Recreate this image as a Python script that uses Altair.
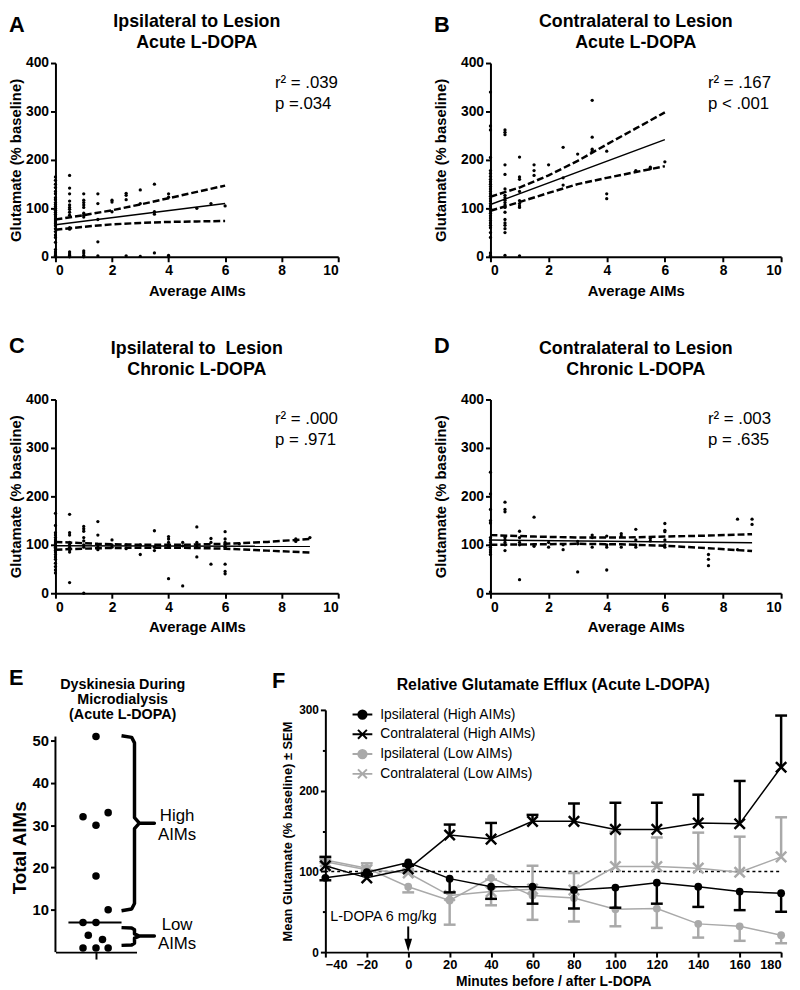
import altair as alt
import pandas as pd

FONT = "Liberation Sans"

# ---------------- Panels A-D : Average AIMs -> glutamate (% baseline) ----------------
A_points = {
    0: [165, 158, 150, 143, 135, 130, 122, 118, 112, 108, 104, 100, 96, 92, 88, 84, 80, 76, 72,
        68, 64, 58, 52, 45, 40, 30, 15, 10, 6, 3, 0],
    0.5: [168, 142, 130, 115, 107, 102, 98, 92, 86, 60, 57, 10, 6, 3, 0],
    1: [130, 117, 112, 107, 102, 90, 86, 82, 12, 8, 3, 0],
    1.5: [130, 110, 77, 31, 2],
    2: [117, 113, 93],
    2.5: [131, 127, 118, 2],
    3: [138, 110, 1],
    3.5: [150, 93, 88, 8],
    4: [130, 123, 3, 0],
    5: [100],
    5.5: [110],
    6: [105],
}
A_fit_x = [0, 6]
A_fit_y = [66, 110]
A_band_x = [0, 1, 2, 3, 4, 5, 6]
A_band_upper = [77, 86, 96, 108, 121, 134, 147]
A_band_lower = [56, 62, 67, 70, 72, 73, 74]

B_points = {
    0: [340, 270, 262, 205, 178, 172, 166, 160, 155, 150, 145, 140, 135, 130, 125, 120, 115, 110,
        105, 100, 95, 90, 85, 80, 75, 70, 65, 60, 50, 40, 8, 3, 0],
    0.5: [262, 257, 252, 190, 170, 140, 127, 122, 117, 112, 107, 102, 92, 77, 70, 65, 58, 50, 3],
    1: [206, 165, 160, 135, 116, 110, 105, 102, 2],
    1.5: [190, 178, 168],
    2: [190],
    2.5: [226, 163, 148],
    3: [212],
    3.5: [323, 247, 222, 218],
    4: [218, 130, 120],
    5: [178],
    5.5: [185, 182],
    6: [196],
}
B_fit_x = [0, 6]
B_fit_y = [108, 242]
B_band_x = [0, 1, 2, 3, 4, 5, 6]
B_band_upper = [124, 143, 168, 198, 232, 265, 298]
B_band_lower = [95, 113, 132, 150, 163, 175, 187]

C_points = {
    0: [165, 140, 125, 120, 115, 110, 106, 102, 98, 95, 92, 88, 85, 80, 75, 70, 62, 55, 48, 42],
    0.5: [163, 125, 120, 105, 100, 95, 90, 85, 22],
    1: [138, 133, 128, 115, 108, 100, 95, 0],
    1.5: [148, 120, 100, 95, 90],
    2: [110, 100, 95],
    2.5: [100, 92],
    3: [100, 80],
    3.5: [129, 95, 88],
    4: [117, 112, 105, 100, 95, 30],
    4.5: [105, 98, 15],
    5: [137, 105, 100, 95, 75],
    5.5: [113, 105, 60],
    6: [127, 112, 105, 100, 95, 60, 45, 40],
    6.5: [102],
    8.5: [112, 107],
    9: [115],
}
C_fit_x = [0, 9]
C_fit_y = [98, 97]
C_band_x = [0, 1.5, 3, 4.5, 6, 7.5, 9]
C_band_upper = [106, 102, 100, 100, 102, 106, 112]
C_band_lower = [90, 93, 94, 94, 92, 88, 84]

D_points = {
    0: [250, 205, 173, 150, 145, 115, 110, 105, 100, 95, 90, 85, 80, 3],
    0.5: [188, 173, 168, 115, 110, 105, 100, 88],
    1: [128, 115, 105, 100, 28],
    1.5: [157, 100, 97],
    2: [105, 95],
    2.5: [100, 90],
    3: [107, 102, 44],
    3.5: [120, 115, 95],
    4: [118, 100, 95, 48],
    4.5: [123, 118, 95],
    5: [132, 110, 100, 95],
    5.5: [113, 108],
    6: [144, 130, 127, 110, 100, 95],
    7.5: [80, 70, 57],
    8.5: [153, 90],
    9: [153, 142],
}
D_fit_x = [0, 9]
D_fit_y = [110, 104]
D_band_x = [0, 1.5, 3, 4.5, 6, 7.5, 9]
D_band_upper = [120, 117, 115, 115, 117, 119, 122]
D_band_lower = [100, 101, 102, 101, 98, 93, 87]

# ---------------- Panel E ----------------
E_values = [51, 32, 33, 30, 18, 10, 7, 7, 4, 3, 1, 1, 1]
E_offsets = [0, -0.32, 0.3, 0, 0, 0.3, -0.32, 0, -0.19, 0.16, -0.32, 0, 0.3]
E_median = 7
E_median_x = [-0.68, 0.63]
E_high_bracket_x = [0.63, 0.88, 0.95, 0.95, 1.07, 1.44, 1.07, 0.95, 0.95, 0.88, 0.63]
E_high_bracket_y = [51.2, 50.8, 49.5, 31.8, 30.5, 30.5, 30.5, 29.2, 11.5, 10.2, 9.8]
E_low_bracket_x = [0.63, 0.88, 0.95, 0.95, 1.07, 1.44, 1.07, 0.95, 0.95, 0.88, 0.63]
E_low_bracket_y = [5.8, 5.7, 5.3, 4.3, 3.8, 3.8, 3.8, 3.3, 2.1, 1.7, 1.6]

# ---------------- Panel F ----------------
F_time = [-40, -20, 0, 20, 40, 60, 80, 100, 120, 140, 160, 180]
F_ipsi_high = [92, 99, 111, 91, 81, 81, 77, 80, 86, 81, 75, 73]
F_ipsi_high_sem = [3, 3, 3, 17, 15, 21, 23, 25, 26, 25, 23, 23]
F_contra_high = [107, 92, 103, 145, 140, 162, 162, 152, 152, 160, 159, 229]
F_contra_high_sem = [11, 4, 4, 13, 20, 8, 22, 33, 33, 35, 53, 64]
F_ipsi_low = [114, 104, 81, 64, 92, 70, 67, 53, 54, 35, 32, 21]
F_ipsi_low_sem = [3, 3, 7, 30, 34, 30, 29, 21, 24, 17, 18, 10]
F_contra_low = [112, 102, 98, 70, 75, 78, 77, 106, 106, 104, 99, 118]
F_contra_low_sem = [3, 8, 3, 4, 15, 29, 21, 43, 36, 44, 44, 49]
F_series = ["Ipsilateral (High AIMs)", "Contralateral (High AIMs)",
            "Ipsilateral (Low AIMs)", "Contralateral (Low AIMs)"]
BLACK = "#000000"
GRAY = "#a9a9a9"

X_PATH = "M-1,-1L1,1M1,-1L-1,1"
LEG_CIRCLE = "M-1,0L1,0M0.42,0A0.42,0.42,0,1,1,-0.42,0A0.42,0.42,0,1,1,0.42,0Z"
LEG_X = "M-1,0L1,0M-0.45,-0.45L0.45,0.45M0.45,-0.45L-0.45,0.45"


def text_layer(text, x, y, size, weight="normal", align="left", baseline="middle"):
    kw = dict(font=FONT, fontSize=size, fontWeight=weight, align=align,
              baseline=baseline, color="black")
    return alt.Chart(pd.DataFrame({"t": [text]})).mark_text(**kw).encode(
        text="t:N", x=alt.value(x), y=alt.value(y))


def text_lines(lines, x, y0, lh, size, weight="normal", align="left"):
    return [text_layer(t, x, y0 + i * lh, size, weight, align) for i, t in enumerate(lines)]


def scatter_panel(points, fit_x, fit_y, band_x, up, lo, width, letter, letter_x, letter_y,
                  title, title_y, title_lh, r2, p, stat_x, ytitle_pad):
    rows = [(x, y) for x, ys in points.items() for y in ys]
    df = pd.DataFrame(rows, columns=["aims", "glu"])
    xenc = alt.X("aims:Q", scale=alt.Scale(domain=[0, 10], nice=False),
                 axis=alt.Axis(values=[0, 2, 4, 6, 8, 10], title="Average AIMs",
                               labelFontSize=14, titleFontSize=15, titlePadding=6))
    yenc = alt.Y("glu:Q", scale=alt.Scale(domain=[0, 400], nice=False),
                 axis=alt.Axis(values=[0, 100, 200, 300, 400], title="Glutamate (% baseline)",
                               labelFontSize=14, titleFontSize=15, titlePadding=ytitle_pad))
    pts = alt.Chart(df).mark_circle(size=11, color="black", opacity=1).encode(x=xenc, y=yenc)
    fit = alt.Chart(pd.DataFrame({"aims": fit_x, "glu": fit_y})).mark_line(
        color="black", strokeWidth=1.5).encode(x="aims:Q", y="glu:Q")
    n = len(band_x)
    bdf = pd.DataFrame({"aims": list(band_x) * 2, "glu": list(up) + list(lo),
                        "side": ["upper"] * n + ["lower"] * n})
    band = alt.Chart(bdf).mark_line(color="black", strokeWidth=2.5, strokeDash=[7, 3]).encode(
        x="aims:Q", y="glu:Q", detail="side:N")
    layers = [pts, fit, band, text_layer(letter, letter_x, letter_y, 22, "bold")]
    layers += text_lines(title, width / 2, title_y, title_lh, 18, "bold", "center")
    layers += [text_layer(r2, stat_x, 20, 17), text_layer(p, stat_x, 41, 17)]
    return alt.layer(*layers).properties(width=width, height=196)


A = scatter_panel(A_points, A_fit_x, A_fit_y, A_band_x, A_band_upper, A_band_lower, 286,
                  "A", -47, -38, ["Ipsilateral to Lesion", "Acute L-DOPA"], -41, 21,
                  "r\u00b2 = .039", "p =.034", 222, 2)
B = scatter_panel(B_points, B_fit_x, B_fit_y, B_band_x, B_band_upper, B_band_lower, 294,
                  "B", -57, -38, ["Contralateral to Lesion", "Acute L-DOPA"], -41, 21,
                  "r\u00b2 = .167", "p < .001", 220, 12)
C = scatter_panel(C_points, C_fit_x, C_fit_y, C_band_x, C_band_upper, C_band_lower, 286,
                  "C", -47, -53.5, ["Ipsilateral to\u00a0 Lesion", "Chronic L-DOPA"], -51.3, 21.6,
                  "r\u00b2 = .000", "p = .971", 222, 2)
D = scatter_panel(D_points, D_fit_x, D_fit_y, D_band_x, D_band_upper, D_band_lower, 294,
                  "D", -57, -53.5, ["Contralateral to Lesion", "Chronic L-DOPA"], -51.3, 21.6,
                  "r\u00b2 = .003", "p = .635", 220, 12)

# ---------------- Panel E chart ----------------
E_df = pd.DataFrame({"pos": E_offsets, "aims": E_values})
ex = alt.X("pos:Q", scale=alt.Scale(domain=[-1, 1], nice=False, zero=False),
           axis=alt.Axis(values=[0], labels=False, title=None, tickSize=7))
ey = alt.Y("aims:Q", scale=alt.Scale(domain=[0, 57.3], nice=False),
           axis=alt.Axis(values=[10, 20, 30, 40, 50], title="Total AIMs", domain=False,
                         labelFontSize=15, titleFontSize=19, titlePadding=3, titleY=139))
E_dots = alt.Chart(E_df).mark_circle(size=58, color="black", opacity=1).encode(x=ex, y=ey)
E_axis_line = alt.Chart(pd.DataFrame({"aims": [0], "aims2": [51]})).mark_rule(
    color="black", strokeWidth=2).encode(x=alt.value(0), y="aims:Q", y2="aims2:Q")
E_med = alt.Chart(pd.DataFrame({"pos": [E_median_x[0]], "pos2": [E_median_x[1]],
                                "aims": [E_median]})).mark_rule(
    color="black", strokeWidth=2).encode(x="pos:Q", x2="pos2:Q", y="aims:Q")
br_df = pd.DataFrame({
    "pos": E_high_bracket_x + E_low_bracket_x,
    "aims": E_high_bracket_y + E_low_bracket_y,
    "grp": ["high"] * len(E_high_bracket_x) + ["low"] * len(E_low_bracket_x),
    "ord": list(range(len(E_high_bracket_x))) + list(range(len(E_low_bracket_x))),
})
E_br = alt.Chart(br_df).mark_line(color="black", strokeWidth=3.5, strokeJoin="round").encode(
    x="pos:Q", y="aims:Q", detail="grp:N", order="ord:Q")
E_lab = alt.Chart(pd.DataFrame({"pos": [2.0, 2.0], "aims": [32.3, 6.5],
                                "t": ["High\nAIMs", "Low\nAIMs"]})).mark_text(
    font=FONT, fontSize=17, align="center", baseline="middle", lineBreak="\n",
    lineHeight=20, color="black").encode(x="pos:Q", y="aims:Q", text="t:N")
E = alt.layer(
    E_axis_line, E_dots, E_med, E_br, E_lab,
    text_layer("E", -47, -32.5, 22, "bold"),
    *text_lines(["Dyskinesia During", "Microdialysis", "(Acute L-DOPA)"], 68, -25, 15, 14.5,
                "bold", "center"),
).properties(width=82, height=245)

# ---------------- Panel F chart ----------------
series_spec = [
    (F_series[2], F_ipsi_low, F_ipsi_low_sem, -1, "circle", GRAY),
    (F_series[3], F_contra_low, F_contra_low_sem, 1, "x", GRAY),
    (F_series[0], F_ipsi_high, F_ipsi_high_sem, -1, "circle", BLACK),
    (F_series[1], F_contra_high, F_contra_high_sem, 1, "x", BLACK),
]
fx = alt.X("time:Q", scale=alt.Scale(domain=[-40, 180], nice=False, zero=False),
           axis=alt.Axis(values=list(range(-40, 181, 20)), title="Minutes before / after L-DOPA",
                         labelFontSize=13, titleFontSize=14, titlePadding=3))
fy = alt.Y("val:Q", scale=alt.Scale(domain=[0, 300], nice=False),
           axis=alt.Axis(values=list(range(0, 301, 50)),
                         labelExpr="datum.value % 100 === 0 ? datum.label : ''",
                         tickSize={"condition": {"test": "datum.value % 100 === 0", "value": 5},
                                   "value": 3},
                         title="Mean Glutamate (% baseline)  \u00b1 SEM",
                         labelFontSize=12, titleFontSize=13, titlePadding=4))

F_layers = []
ref = alt.Chart(pd.DataFrame({"time": [-40], "time2": [180], "val": [100]})).mark_rule(
    color="black", strokeWidth=1.5, strokeDash=[3, 3]).encode(x=fx, x2="time2:Q", y=fy)
F_layers.append(ref)
for name, mean, sem, direction, kind, col in series_spec:
    df = pd.DataFrame({"time": F_time, "val": mean,
                       "end": [m + direction * s for m, s in zip(mean, sem)]})
    base = alt.Chart(df)
    F_layers.append(base.mark_line(color=col, strokeWidth=1.5).encode(x="time:Q", y="val:Q"))
    F_layers.append(base.mark_rule(color=col, strokeWidth=2.5).encode(
        x="time:Q", y="val:Q", y2="end:Q"))
    F_layers.append(base.mark_tick(color=col, orient="horizontal", size=12, thickness=2.5,
                                   opacity=1).encode(x="time:Q", y="end:Q"))
    if kind == "circle":
        F_layers.append(base.mark_point(shape="circle", filled=True, size=62, color=col,
                                        opacity=1).encode(x="time:Q", y="val:Q"))
    else:
        F_layers.append(base.mark_point(shape=X_PATH, filled=False, size=110, color=col,
                                        strokeWidth=2.5, opacity=1).encode(x="time:Q", y="val:Q"))

# L-DOPA annotation and arrow
F_layers.append(alt.Chart(pd.DataFrame({"time": [-37.6], "val": [44], "t": ["L-DOPA 6 mg/kg"]}))
                .mark_text(font=FONT, fontSize=14.5, align="left", baseline="middle",
                           color="black").encode(x="time:Q", y="val:Q", text="t:N"))
F_layers.append(alt.Chart(pd.DataFrame({"time": [0], "val": [31.8], "v2": [9]})).mark_rule(
    color="black", strokeWidth=2).encode(x="time:Q", y="val:Q", y2="v2:Q"))
F_layers.append(alt.Chart(pd.DataFrame({"time": [0], "val": [8.6]})).mark_point(
    shape="M-0.6,-1L0.6,-1L0,1Z", filled=True, size=169, color="black", opacity=1).encode(
    x="time:Q", y="val:Q"))

# legend (invisible carrier layer)
leg = alt.Legend(title=None, orient="none", legendX=26.5, legendY=-6.3, padding=0,
                 labelFont=FONT, labelFontSize=14, labelColor="black", symbolSize=400,
                 symbolStrokeWidth=2, symbolOpacity=1, rowPadding=0, labelOffset=7)
leg_df = pd.DataFrame({"series": F_series})
F_layers.append(alt.Chart(leg_df).mark_point(filled=True, opacity=0).encode(
    x=alt.value(0), y=alt.value(0),
    fill=alt.Fill("series:N", sort=F_series,
                  scale=alt.Scale(domain=F_series, range=[BLACK, BLACK, GRAY, GRAY]), legend=leg),
    stroke=alt.Stroke("series:N", sort=F_series,
                      scale=alt.Scale(domain=F_series, range=[BLACK, BLACK, GRAY, GRAY]), legend=leg),
    shape=alt.Shape("series:N", sort=F_series,
                    scale=alt.Scale(domain=F_series, range=[LEG_CIRCLE, LEG_X, LEG_CIRCLE, LEG_X]),
                    legend=leg),
))
F_layers.append(text_layer("F", -54, -29.5, 22, "bold"))
F_layers.append(text_layer("Relative Glutamate Efflux (Acute L-DOPA)", 230.5, -25, 16, "bold",
                           align="center"))
F = alt.layer(*F_layers).properties(width=461, height=245)

# ---------------- layout ----------------
IND = dict(fill="independent", stroke="independent", shape="independent")
row1 = alt.hconcat(A, B, spacing=154, bounds="flush")
row2 = alt.hconcat(C, D, spacing=154, bounds="flush")
row3 = alt.hconcat(E, F, spacing=191, bounds="flush").resolve_legend(**IND)
upper = alt.vconcat(row1, row2, spacing=37.3)
chart = alt.vconcat(upper, row3, spacing=31.3).resolve_legend(**IND).properties(padding=0)

chart = chart.configure(font=FONT).configure_view(stroke=None).configure_axis(
    domainColor="black", domainWidth=2, tickColor="black", tickWidth=2, tickSize=5,
    labelColor="black", labelFontWeight="bold", labelFont=FONT, labelPadding=2,
    titleColor="black", titleFontWeight="bold", titleFont=FONT, grid=False,
)

chart.save("out.html", embed_options={"renderer": "svg", "actions": False})
